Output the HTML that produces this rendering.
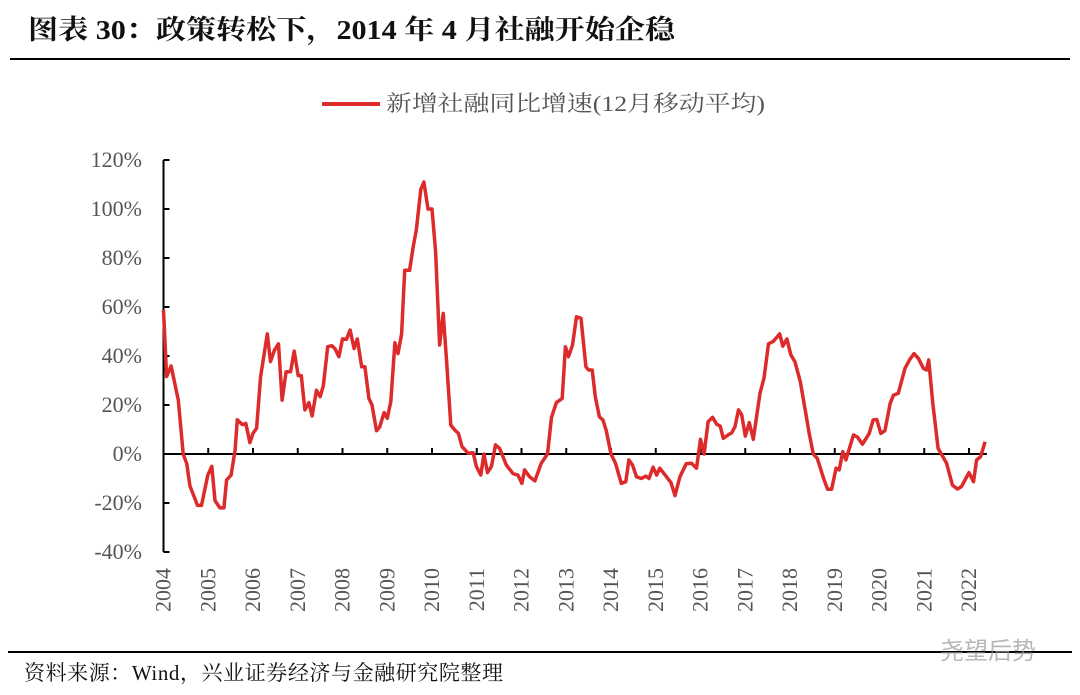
<!DOCTYPE html>
<html><head><meta charset="utf-8"><style>
body{margin:0;background:#fff;}
svg{display:block;}
.ser{font-family:"Liberation Serif","Noto Serif CJK SC",serif;}
</style></head><body>
<svg width="1080" height="695" viewBox="0 0 1080 695" xmlns="http://www.w3.org/2000/svg">
<text x="28" y="39" class="ser" font-size="27" font-weight="bold" fill="#111" textLength="647" lengthAdjust="spacingAndGlyphs">图表 30：政策转松下，2014 年 4 月社融开始企稳</text>
<line x1="10" y1="59" x2="1070" y2="59" stroke="#000" stroke-width="2"/>
<g>
<line x1="322" y1="104" x2="380" y2="104" stroke="#dd2a2a" stroke-width="4"/>
<text x="386" y="111" class="ser" font-size="22" fill="#555" textLength="379" lengthAdjust="spacingAndGlyphs">新增社融同比增速(12月移动平均)</text>
</g>
<g id="axes"></g>
<g id="series"></g>
<line x1="8" y1="652" x2="1072" y2="652" stroke="#000" stroke-width="2"/>
<text x="24" y="680" class="ser" font-size="21" fill="#111" textLength="479">资料来源：Wind，兴业证券经济与金融研究院整理</text>
<text x="940" y="659" font-family="'Noto Sans CJK SC',sans-serif" font-size="24" fill="#999" opacity="0.7">尧望后势</text>
</svg>
<script>
const yTicks=[120,100,80,60,40,20,0,-20,-40];
const yearLabels=[2004,2005,2006,2007,2008,2009,2010,2011,2012,2013,2014,2015,2016,2017,2018,2019,2020,2021,2022];
const times=[2004.0,2004.07,2004.17,2004.33,2004.44,2004.52,2004.59,2004.76,2004.85,2004.99,2005.08,2005.15,2005.26,2005.35,2005.41,2005.51,2005.6,2005.65,2005.76,2005.84,2005.93,2006.0,2006.08,2006.17,2006.32,2006.39,2006.48,2006.57,2006.65,2006.74,2006.84,2006.92,2007.01,2007.08,2007.16,2007.25,2007.32,2007.42,2007.5,2007.57,2007.67,2007.76,2007.83,2007.92,2008.0,2008.09,2008.17,2008.26,2008.33,2008.43,2008.5,2008.59,2008.66,2008.76,2008.83,2008.93,2009.0,2009.08,2009.17,2009.24,2009.32,2009.39,2009.5,2009.58,2009.65,2009.75,2009.82,2009.91,2010.0,2010.08,2010.17,2010.25,2010.32,2010.42,2010.51,2010.59,2010.67,2010.81,2010.92,2010.99,2011.09,2011.16,2011.24,2011.33,2011.42,2011.51,2011.66,2011.81,2011.92,2012.01,2012.07,2012.18,2012.3,2012.44,2012.58,2012.67,2012.78,2012.91,2012.98,2013.05,2013.14,2013.23,2013.33,2013.44,2013.5,2013.58,2013.65,2013.74,2013.82,2013.89,2014.0,2014.1,2014.23,2014.33,2014.4,2014.48,2014.57,2014.68,2014.78,2014.85,2014.94,2015.02,2015.09,2015.24,2015.34,2015.43,2015.54,2015.68,2015.8,2015.91,2016.0,2016.08,2016.17,2016.27,2016.36,2016.44,2016.51,2016.62,2016.7,2016.77,2016.85,2016.92,2017.0,2017.09,2017.18,2017.33,2017.42,2017.52,2017.63,2017.77,2017.84,2017.93,2018.02,2018.11,2018.23,2018.34,2018.43,2018.52,2018.61,2018.75,2018.84,2018.93,2019.03,2019.1,2019.18,2019.25,2019.42,2019.51,2019.62,2019.77,2019.86,2019.94,2020.03,2020.12,2020.24,2020.31,2020.42,2020.57,2020.67,2020.77,2020.87,2020.98,2021.05,2021.1,2021.19,2021.31,2021.5,2021.63,2021.74,2021.83,2021.91,2022.0,2022.1,2022.17,2022.26,2022.36];
const values=[58.8,31.6,35.9,22,0,-4,-13,-21,-21,-8.6,-5,-19,-22,-22,-10.6,-8.6,1.6,14,12,12.5,4.6,8.4,10.5,31.6,49,37.7,42.4,45,22,33.6,33.6,42,32,32,18,21,15.5,26,23.4,27.8,43.8,44.2,43,39.7,47,46.8,50.6,43,47,35.6,35.6,22.7,20,9.5,11,16.9,14.6,21.4,45.4,41,49,75,75,84.6,91.4,108,111,100,100,82.6,44.5,57.4,39.7,11.8,9.8,8.4,3,0.3,0.5,-5,-8.6,0,-7.6,-5,3.7,2.3,-4.5,-8,-8.6,-12,-6.5,-9.3,-11,-3.8,0,15,21,22.7,43.8,39.7,44.5,56,55.4,35.6,34.3,34.3,23.4,15.2,13.9,9.8,0,-3.8,-12,-11.3,-2.4,-4.5,-9.3,-10,-9,-10,-5.4,-8.6,-5.8,-9.3,-11.7,-17,-9.3,-4,-3.8,-5.8,6,0,13.2,15,12.2,11.4,6.4,7.8,8.7,11.2,18,16,7.3,12.8,6,24.8,31,45,46,49,44,47,40.4,37.7,29.5,18,8.4,0,-1.8,-10,-14.4,-14.4,-5.8,-6.5,1,-2.4,7.8,6.8,4,8.4,13.9,14.1,8.4,9.5,20.7,24,24.8,35,38.4,41,39,35,34.3,38.4,20.7,2.3,-3.8,-12.7,-14.3,-13.3,-10.6,-7.6,-11.3,-2.4,-1.1,5];

const NS="http://www.w3.org/2000/svg";
const X0=163.5,YW=44.75,Y0=454,PX=2.45;
function xs(t){return X0+(t-2004)*YW;}
function ys(v){return Y0-v*PX;}
const ax=document.getElementById('axes');
function mk(tag,attrs,parent){const e=document.createElementNS(NS,tag);for(const k in attrs)e.setAttribute(k,attrs[k]);parent.appendChild(e);return e;}
const yl=mk('line',{x1:X0,y1:ys(120),x2:X0,y2:ys(-40),stroke:'#000','stroke-width':2},ax);


yTicks.forEach(v=>{
  const tk=mk('line',{x1:X0,y1:ys(v),x2:X0+6,y2:ys(v),stroke:'#000','stroke-width':2},ax);
  
  
  const t=mk('text',{x:142,y:ys(v)+7,'text-anchor':'end','font-size':22,fill:'#555',class:'ser'},ax);
  t.textContent=v+'%';
  
  
});
const xl=mk('line',{x1:X0,y1:Y0,x2:xs(2022.4),y2:Y0,stroke:'#000','stroke-width':2},ax);


yearLabels.forEach(yr=>{
  const x=xs(yr);
  if(yr>2004){
    const tk=mk('line',{x1:x,y1:Y0,x2:x,y2:Y0-6,stroke:'#000','stroke-width':2},ax);
    
    
  }
  const t=mk('text',{x:0,y:0,'text-anchor':'end','font-size':22,fill:'#555',class:'ser',transform:'translate('+(x+7)+',568) rotate(-90)'},ax);
  t.textContent=String(yr);
  
  
});
const sg=document.getElementById('series');
let d='';
times.forEach((t,i)=>{d+=(i?'L':'M')+xs(t).toFixed(1)+','+ys(values[i]).toFixed(1);});
const p=mk('path',{d:d,fill:'none',stroke:'#dd2a2a','stroke-width':3.5,'stroke-linejoin':'round'},sg);


</script>
</body></html>
